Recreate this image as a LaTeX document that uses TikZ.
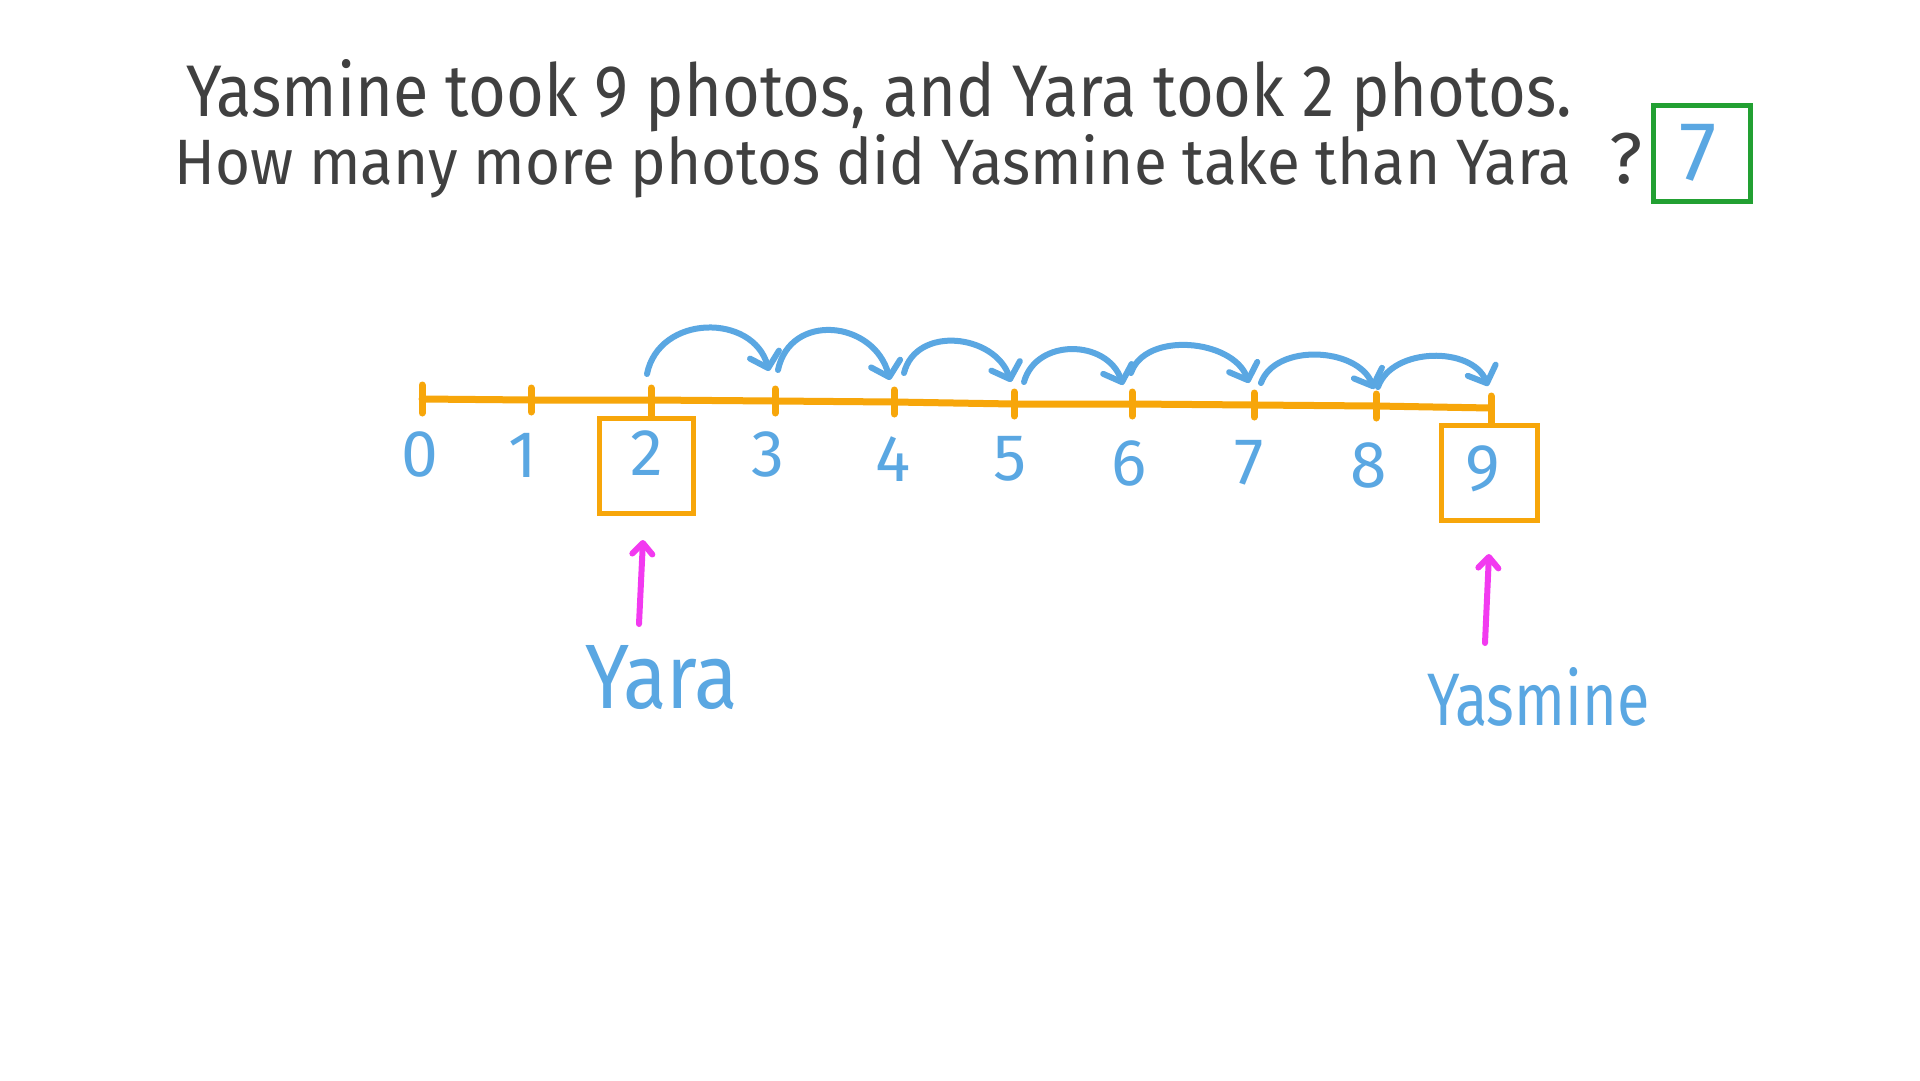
\documentclass[tikz,border=0pt]{standalone}
\usepackage{fontspec}
\setmainfont{Fira Sans}
\usetikzlibrary{arrows.meta,calc}
\definecolor{ink}{HTML}{404040}
\definecolor{hblue}{HTML}{5AA7E2}
\definecolor{horange}{HTML}{F7A60A}
\definecolor{hgreen}{HTML}{22A032}
\definecolor{hpink}{HTML}{F23AF0}
\begin{document}
\begin{tikzpicture}[x=1pt,y=-1pt,
  axis/.style={horange,line width=7pt,line cap=round,line join=round},
  tickmark/.style={horange,line width=7pt,line cap=round},
  numbox/.style={draw=horange,line width=5pt,inner sep=0pt},
  digit/.style={hblue,font=\fontsize{66}{70}\selectfont,inner sep=0pt},
  hop/.style={hblue,line width=6pt,line cap=round,line join=round,
    -{Straight Barb[length=14pt,width=30pt,line width=6pt,round]}},
  pointer/.style={hpink,line width=6pt,line cap=round,
    -{Straight Barb[length=11pt,width=20pt,line width=6pt,round]}},
  namelabel/.style={hblue,inner sep=0pt,anchor=base west},
  titletext/.style={ink,inner sep=0pt,anchor=base west}
]
\useasboundingbox[fill=white] (0,0) rectangle (1920,1080);

% title
\node[titletext] (line1) at (186,116)
  {\resizebox{1385pt}{57pt}{Yasmine took 9 photos, and Yara took 2 photos.}};
\node[titletext] (line2) at (174,184)
  {\resizebox{1397pt}{50pt}{How many more photos did Yasmine take than Yara}};
\node[titletext,font=\fontsize{72}{80}\selectfont] (qmark) at (1609,183) {?};
\node[draw=hgreen,line width=5pt,minimum width=97pt,minimum height=96pt,inner sep=0pt]
  (ansbox) at (1701.5,153) {};
\node[hblue,inner sep=0pt,font=\fontsize{84}{90}\selectfont] (ans) at (1698,153) {7};

% number line points
\foreach \i/\x/\y in {0/422/399,1/531/400,2/651/400,3/775/401,4/894/402,
                      5/1014/404,6/1132/404,7/1254/405,8/1376/406,9/1491/408}
  \coordinate (t\i) at (\x,\y);
\draw[axis] (t0) -- (t1) -- (t2) -- (t3) -- (t4) -- (t5) -- (t6) -- (t7) -- (t8) -- (t9);
\draw[tickmark] ([yshift=-14pt]t0) -- ([yshift=14pt]t0);
\foreach \i in {1,3,4,5,6,7,8}
  \draw[tickmark] ([yshift=-12pt]t\i) -- ([yshift=12pt]t\i);

% boxes
\node[numbox,minimum width=94pt,minimum height=95pt] (b2) at (646,465.5) {};
\node[numbox,minimum width=96pt,minimum height=95pt] (b9) at (1489,472.5) {};
\draw[tickmark,line cap=butt] ([yshift=12pt]t2) -- (b2.north -| t2);
\draw[tickmark,line cap=butt] ([yshift=12pt]t9) -- (b9.north -| t9);
\draw[tickmark] ([yshift=12pt]t2) -- ([yshift=-4pt]t2);
\draw[tickmark] ([yshift=12pt]t9) -- ([yshift=-4pt]t9);

% digits
\foreach \i/\x/\y in {0/420/454,1/523/455,2/647/453,3/768/454,4/893/459,
                      5/1010/459,6/1129/463,7/1249/463,8/1369/465,9/1483/469}
  \node[digit] (n\i) at (\x,\y) {\i};

% hops
\foreach \k/\sx/\sy/\ex/\ey in {1/647/374/769/371, 2/778/370/890/380, 3/904/373/1011/382,
   4/1024/382/1123/385, 5/1131/373/1249/383, 6/1261/383/1374/389, 7/1378/387/1488/386}{
  \coordinate (h\k s) at (\sx,\sy);
  \coordinate (h\k e) at (\ex,\ey);
}
\draw[hop] (h1s) .. controls +(12,-60) and +(-16,-58) .. (h1e);
\draw[hop] (h2s) .. controls +(12,-58) and +(-16,-60) .. (h2e);
\draw[hop] (h3s) .. controls +(12,-48) and +(-16,-48) .. (h3e);
\draw[hop] (h4s) .. controls +(12,-44) and +(-16,-46) .. (h4e);
\draw[hop] (h5s) .. controls +(14,-42) and +(-16,-44) .. (h5e);
\draw[hop] (h6s) .. controls +(14,-40) and +(-16,-42) .. (h6e);
\draw[hop] (h7s) .. controls +(14,-40) and +(-16,-40) .. (h7e);

% pointers and names
\coordinate (p1s) at (639,624);
\coordinate (p1e) at (643,540);
\coordinate (p2s) at (1485,643);
\coordinate (p2e) at (1489,554);
\draw[pointer] (p1s) -- (p1e);
\draw[pointer] (p2s) -- (p2e);
\node[namelabel] (yara) at (585,708) {\resizebox{153pt}{63pt}{Yara}};
\node[namelabel] (yasmine) at (1427,725) {\resizebox{222pt}{58pt}{Yasmine}};
\end{tikzpicture}
\end{document}
